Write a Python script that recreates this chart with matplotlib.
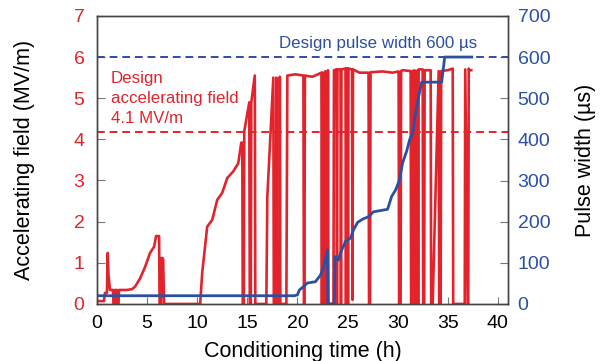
import numpy as np
import matplotlib.pyplot as plt

plt.rcParams['font.family'] = ['Liberation Sans', 'DejaVu Sans']

RED = '#e3232c'
BLUE = '#2b50a3'

# Accelerating field (MV/m) vs conditioning time (h), read as (t, value) pairs
field_pts = [
    (0, 0.07), (0.7, 0.07), (0.8, 0.27), (1.0, 0.27), (1.07, 1.24), (1.15, 0.7),
    (1.3, 0.34), (1.6, 0.34), (1.65, 0), (1.75, 0), (1.8, 0.34), (2.0, 0.34),
    (2.02, 0), (2.15, 0), (2.2, 0.34), (3.0, 0.34), (3.5, 0.36), (3.8, 0.42),
    (4.3, 0.62), (4.8, 0.9), (5.3, 1.24), (5.7, 1.39), (5.9, 1.65), (6.2, 1.65),
    (6.25, 0), (6.4, 0), (6.45, 1.12), (6.6, 1.1), (6.7, 0),
    (10.3, 0), (10.5, 0.75), (11.0, 1.88), (11.5, 2.04), (12.0, 2.53), (12.5, 2.7),
    (13.0, 3.06), (13.6, 3.22), (14.1, 3.42), (14.4, 3.92), (14.5, 3.92),
    (14.55, 0), (14.65, 0), (14.7, 4.2), (15.2, 4.9), (15.25, 0), (15.35, 0),
    (15.4, 4.9), (15.75, 5.55), (15.8, 0),
    (16.9, 0), (17.0, 2.6), (17.6, 5.5), (17.65, 0), (17.85, 0), (17.9, 5.5),
    (17.95, 0), (18.2, 0), (18.25, 5.52), (18.3, 0), (18.9, 0),
    (19.0, 5.55), (19.8, 5.58), (20.6, 5.55), (20.65, 0), (20.7, 0), (20.75, 5.55),
    (21.5, 5.52), (22.4, 5.62), (22.45, 0), (22.5, 5.62), (22.55, 0), (22.7, 0),
    (22.75, 5.65), (22.8, 5.65), (22.85, 0), (23.0, 0), (23.05, 5.68), (23.1, 0),
    (23.6, 0), (23.65, 5.68), (23.9, 5.7), (23.95, 0), (24.0, 5.7), (24.3, 5.7),
    (24.35, 0), (24.4, 5.7), (24.8, 5.72), (24.85, 0), (24.9, 5.72), (25.0, 5.72),
    (25.05, 0), (25.1, 5.72), (25.45, 5.7), (25.5, 0.1), (25.55, 5.7), (26.2, 5.62),
    (27.1, 5.62), (27.15, 0), (27.25, 0), (27.3, 5.63), (28.5, 5.65), (29.5, 5.62),
    (30.1, 5.65), (30.15, 0), (30.3, 0), (30.35, 5.66), (30.5, 5.68), (31.3, 5.66),
    (31.35, 0), (31.5, 0), (31.55, 5.67), (31.75, 5.67), (31.8, 0), (32.0, 5.68),
    (32.05, 0), (32.1, 5.7), (32.5, 5.7), (32.55, 0), (32.65, 0), (32.7, 5.68),
    (33.3, 5.68), (33.35, 0), (33.5, 0), (34.1, 5.66), (34.15, 0), (34.3, 0),
    (34.35, 5.66), (35.0, 5.68), (35.5, 5.72), (35.55, 0), (36.7, 0), (36.75, 5.7),
    (37.0, 0), (37.05, 0), (37.1, 5.72), (37.15, 5.68), (37.35, 5.68),
]

# Pulse width (us) vs conditioning time (h)
pulse_pts = [
    (0, 20), (19.7, 20), (20.0, 22), (20.2, 34), (20.6, 42), (21.0, 51), (21.8, 54),
    (22.3, 70), (22.6, 88), (23.0, 131), (23.05, 0), (23.7, 0), (23.75, 115),
    (24.1, 107), (24.3, 124), (24.8, 152), (25.3, 160), (25.6, 180), (26.0, 198),
    (26.5, 206), (27.1, 212), (27.6, 224), (29.0, 230), (29.4, 261), (29.8, 277),
    (30.2, 302), (30.5, 343), (30.9, 371), (31.2, 399), (31.5, 415), (31.9, 480),
    (32.4, 539), (34.4, 539), (34.7, 600), (37.4, 600),
]

design_field = 4.17
design_pulse = 600

field_t, field_v = zip(*field_pts)
pulse_t, pulse_v = zip(*pulse_pts)

fig = plt.figure(figsize=(6.06, 3.61), dpi=100)
ax = fig.add_axes([0.160, 0.158, 0.678, 0.798])
ax2 = ax.twinx()

ax.plot(field_t, field_v, color=RED, lw=1.9)
ax.axhline(design_field, color=RED, lw=1.4, ls=(0, (4, 2.5)))
ax2.plot(pulse_t, pulse_v, color=BLUE, lw=2.0)
ax2.axhline(design_pulse, color=BLUE, lw=1.4, ls=(0, (4, 2.5)))

ax.set_xlim(0, 41)
ax.set_ylim(0, 7)
ax2.set_ylim(0, 700)
ax.set_xticks(range(0, 45, 5))
ax.set_yticks(range(0, 8))
ax2.set_yticks(range(0, 800, 100))

ax.text(37.9, 6.34, 'Design pulse width 600 µs', color=BLUE, fontsize=12.2,
        ha='right', va='center')
ax.text(1.4, 5.66, 'Design\naccelerating field\n4.1 MV/m', color=RED, fontsize=12.2,
        ha='left', va='top', linespacing=1.4)

ax.set_xlabel('Conditioning time (h)', fontsize=15.5)
ax.set_ylabel('Accelerating field (MV/m)', fontsize=15.5)
ax2.set_ylabel('Pulse width (µs)', fontsize=15.5)
ax.xaxis.set_label_coords(0.5, -0.128)
ax.yaxis.set_label_coords(-0.151, 0.5)
ax2.yaxis.set_label_coords(1.163, 0.5)

ax.tick_params(axis='x', direction='in', length=5, labelsize=14, pad=8, color='#777777')
ax.tick_params(axis='y', direction='in', length=6, labelsize=14, pad=9,
               labelcolor=RED, color='#777777')
ax2.tick_params(axis='y', direction='in', length=6, labelsize=14, pad=7,
                labelcolor=BLUE, color='#777777')
for a in (ax, ax2):
    for s in a.spines.values():
        s.set_color('#444444')
        s.set_linewidth(1.0)

fig.savefig('out.png', dpi=100)
